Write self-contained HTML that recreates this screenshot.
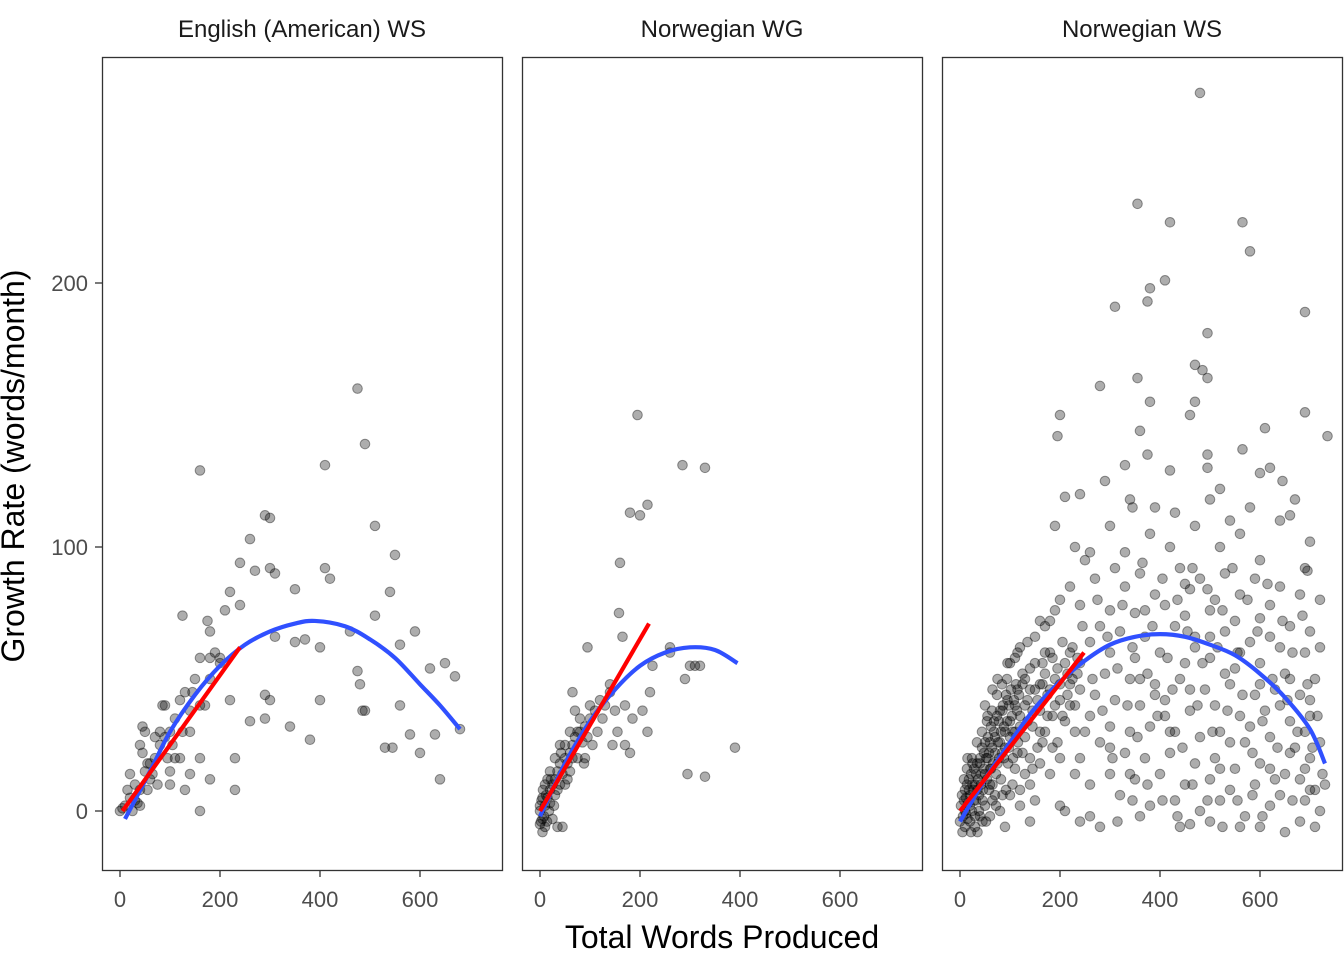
<!DOCTYPE html>
<html><head><meta charset="utf-8"><style>
html,body{margin:0;padding:0;background:#fff}
svg{display:block}
text{font-family:"Liberation Sans",sans-serif}
</style></head><body>
<svg id="chart" width="1344" height="960" viewBox="0 0 1344 960" xmlns="http://www.w3.org/2000/svg"></svg>
<script>
const panelTitles = ["English (American) WS", "Norwegian WG", "Norwegian WS"];
const xTicks = [0, 200, 400, 600];
const yTicks = [0, 100, 200];

const eng = [[475,160],[490,139],[410,131],[160,129],[290,112],[300,111],[510,108],[550,97],[260,103],[240,94],[300,92],[410,92],[420,88],[310,90],[270,91],[540,83],[350,84],[220,83],[240,78],[210,76],[510,74],[125,74],[175,72],[180,68],[590,68],[460,68],[310,66],[350,64],[370,65],[400,62],[560,63],[160,58],[180,58],[200,58],[620,54],[650,56],[670,51],[475,53],[480,48],[290,44],[300,42],[400,42],[220,42],[485,38],[490,38],[560,40],[260,34],[290,35],[340,32],[380,27],[530,24],[545,24],[580,29],[600,22],[630,29],[640,12],[230,20],[230,8],[160,20],[180,12],[160,0],[140,14],[130,8],[680,31],
[10,2],[20,5],[30,10],[40,8],[50,15],[60,12],[70,20],[80,25],[90,40],[85,40],[100,30],[110,35],[120,42],[130,45],[140,38],[150,50],[170,40],[180,50],[190,60],[200,56],[25,0],[35,3],[45,22],[50,30],[55,18],[65,14],[75,10],[95,20],[100,15],[105,25],[110,20],[40,25],[45,32],[15,8],[20,14],[5,1],[0,0],[60,18],[70,28],[80,30],[90,28],[125,30],[145,45],[160,40],[30,4],[40,2],[55,8],[140,30],[120,20],[100,10]];

const nwg = [[195,150],[285,131],[330,130],[215,116],[200,112],[180,113],[160,94],[158,75],[165,66],[300,55],[310,55],[320,55],[290,50],[260,60],[225,55],[220,45],[260,62],[205,38],[215,30],[170,25],[180,22],[390,24],[295,14],[330,13],[95,62],[65,45],[140,48],[170,40],[185,35],
[0,-5],[5,-3],[10,2],[10,-6],[15,5],[20,3],[20,8],[25,10],[30,6],[30,12],[35,15],[40,10],[40,18],[45,14],[50,20],[50,25],[55,18],[60,22],[60,30],[65,25],[70,28],[75,20],[80,30],[80,35],[85,26],[90,32],[95,28],[100,35],[100,40],[110,38],[115,30],[120,42],[125,35],[130,40],[140,45],[150,38],[145,25],[155,30],[35,-6],[45,-6],[25,-3],[5,5],[15,12],[30,20],[40,25],[50,10],[60,15],[70,38],[90,20],[105,25],[20,15],[10,10],[0,2],[5,-8],[0,0],[3,4],[8,-2],[12,6],[18,0],[22,12],[28,2],[35,8],[42,22],[55,12],[65,20],[75,30],[88,18],[2,-4],[6,8],[14,-4]];

const nws = [[480,272],[355,230],[420,223],[565,223],[380,198],[375,193],[410,201],[690,189],[310,191],[495,181],[580,212],[470,169],[485,167],[495,164],[355,164],[380,155],[470,155],[460,150],[280,161],[690,151],[360,144],[735,142],[375,135],[495,135],[565,137],[610,145],[200,150],[195,142],[330,131],[420,129],[495,130],[600,128],[620,130],[645,125],[520,122],[210,119],[290,125],[240,120],[670,118],[660,112],[690,92],[695,91],[340,118],[345,115],[390,115],[430,113],[500,118],[540,110],[580,115],[300,108],[380,105],[470,108],[560,105],[640,110],[190,108],[230,100],[260,98],[330,98],[420,100],[520,100],[600,95],[700,102],
[250,95],[310,92],[360,90],[440,92],[480,88],[530,90],[590,88],[640,85],[680,82],[220,85],[270,88],[330,85],[390,82],[460,84],[510,80],[560,82],[620,78],[720,80],[200,80],[240,78],[300,76],[350,75],[410,78],[450,74],[500,76],[550,72],[600,73],[660,70],[700,68],[180,72],[280,70],[320,68],[370,66],[430,70],[470,66],[530,68],[580,64],[640,62],[690,60],[720,62],[260,64],[300,60],[350,58],[400,60],[450,56],[500,58],[550,54],[600,56],[650,52],[710,50],[240,56],[290,52],[340,50],[390,48],[440,50],[490,46],[540,48],[590,44],[630,46],[680,44],[220,48],[270,44],[310,42],[360,40],[410,42],[460,38],[510,40],[560,36],[610,38],[660,34],[700,36],[260,36],[300,32],[340,30],[380,32],[430,30],[480,28],[520,30],[570,26],[620,28],[670,24],[720,26],[280,26],[330,22],[370,20],[420,22],[470,18],[510,20],[550,16],[600,18],[650,14],[690,16],[240,20],[300,14],[350,12],[400,14],[450,10],[500,12],[540,8],[590,10],[640,6],[700,8],[730,10],[260,10],[320,6],[380,2],[430,4],[480,0],[520,4],[570,-2],[620,2],[680,-4],[710,-6],[280,-6],[360,-2],[440,-6],[500,-4],[600,-6],[650,-8],[460,-5],[560,-6],[390,44],[410,36],[530,52],[470,62],[370,76],[620,66],[580,32],[640,40],[690,30],[700,20],[660,22],[680,12],[540,26],[600,48],[500,66],[450,86],
[0,-4],[5,-8],[10,0],[12,5],[15,-3],[18,8],[20,2],[22,-8],[25,10],[28,4],[30,-2],[32,14],[35,8],[38,0],[40,18],[42,10],[45,4],[48,22],[50,14],[52,-4],[55,20],[58,8],[60,26],[62,16],[65,10],[68,30],[70,22],[72,2],[75,18],[78,34],[80,26],[82,12],[85,38],[88,20],[90,30],[92,8],[95,42],[98,24],[100,34],[8,12],[14,16],[24,20],[34,26],[44,30],[54,34],[64,38],[74,44],[84,48],[94,50],[30,-6],[45,-4],[60,-2],[80,0],[90,-6],[100,6],[50,40],[65,46],
[105,30],[110,40],[115,22],[120,36],[125,48],[130,28],[135,42],[140,54],[145,32],[150,46],[155,24],[160,38],[165,56],[170,30],[175,44],[180,60],[185,36],[190,50],[195,26],[200,42],[205,64],[210,34],[215,52],[220,40],[225,62],[230,30],[235,58],[240,46],[245,70],[110,58],[120,62],[130,14],[140,10],[150,66],[160,18],[170,70],[180,14],[190,76],[200,20],[120,8],[150,4],[170,60],[130,50],[115,46],[100,56],[200,2],[210,0],[240,-4],[160,48],[140,20],[110,16]];

const nwsExtra = [[2,2],[4,6],[6,-2],[8,4],[10,8],[12,-1],[14,10],[16,3],[18,12],[20,6],[22,14],[24,0],[26,8],[28,16],[30,10],[32,4],[34,18],[36,12],[38,6],[40,20],[42,14],[44,24],[46,8],[48,16],[50,26],[52,20],[54,12],[56,28],[58,22],[60,16],[62,32],[64,24],[66,18],[68,34],[70,28],[72,14],[74,36],[76,26],[78,20],[80,38],[82,30],[84,22],[86,40],[88,32],[90,24],[92,44],[94,34],[96,18],[98,40],[100,28],[102,46],[104,36],[106,20],[108,42],[110,30],[112,48],[114,38],[116,26],[118,44],[120,32],[125,52],[130,40],[135,34],[140,46],[145,38],[150,56],[155,42],[160,30],[165,48],[170,52],[175,36],[180,46],[185,58],[190,40],[195,54],[200,48],[205,36],[210,56],[215,44],[220,60],[225,50],[230,40],[235,52],[10,-6],[20,-4],[35,-8],[50,2],[65,4],[85,6],[105,10],[125,22],[145,16],[165,26],[185,24],[60,10],[70,6],[40,-2],[25,18],[15,20],[55,36],[75,50],[95,56],[115,60],[135,64],[160,72],[120,2],[140,-4],[260,-2],[230,14],[250,30],[265,50],[275,80],[285,38],[295,66],[305,20],[315,54],[325,78],[335,40],[345,62],[355,28],[365,94],[375,52],[385,70],[395,36],[405,88],[415,58],[425,46],[435,80],[445,24],[455,68],[465,92],[475,40],[485,56],[495,84],[505,30],[515,62],[525,76],[535,38],[545,92],[555,60],[565,44],[575,80],[585,22],[595,68],[605,34],[615,86],[625,50],[635,24],[645,72],[655,42],[665,60],[675,30],[685,74],[695,48],[705,24],[715,36],[725,14],[710,8],[720,0],[690,4],[665,4],[630,12],[605,-2],[585,6],[555,4],[525,-6],[495,4],[465,10],[435,-2],[405,4],[375,10],[345,4],[315,-4],[300,24],[340,14],[420,30],[520,16],[620,16],[700,42],[660,50],[560,60],[460,46],[360,50]];

const engBlueX = [10,60,100,150,200,250,300,350,390,450,500,550,600,640,680];
const engBlueY = [-3,15,30,44,55,63,68,71,72,70,65,58,48,40,31];
const engRedX = [5,240];
const engRedY = [0,62];
const nwgBlueX = [0,50,100,150,200,250,300,350,395];
const nwgBlueY = [-2,18,34,46,55,60,62,61,56];
const nwgRedX = [0,218];
const nwgRedY = [0,71];
const nwsBlueX = [0,50,100,150,200,250,300,350,400,450,500,550,600,650,700,730];
const nwsBlueY = [-4,12,26,39,49,57,63,66,67,66,63,59,52,43,31,18];
const nwsRedX = [0,248];
const nwsRedY = [0,60];

(function(){
const panels = [
  {left:102, pts:eng, bx:engBlueX, by:engBlueY, rx:engRedX, ry:engRedY, key:'english-ws'},
  {left:522, pts:nwg, bx:nwgBlueX, by:nwgBlueY, rx:nwgRedX, ry:nwgRedY, key:'norwegian-wg'},
  {left:942, pts:nws.concat(nwsExtra), bx:nwsBlueX, by:nwsBlueY, rx:nwsRedX, ry:nwsRedY, key:'norwegian-ws'}
];
const NS = "http://www.w3.org/2000/svg";
const svg = document.getElementById('chart');
const panelTop = 57, panelBottom = 870, pw = 400;
function yScale(v){ return 811 - v * 2.64; }
function mk(tag, attrs, parent){ const e = document.createElementNS(NS, tag); for (const k in attrs) e.setAttribute(k, attrs[k]); parent.appendChild(e); return e; }
function smooth(P){
  let d = 'M' + P[0][0] + ',' + P[0][1];
  for (let i = 0; i < P.length - 1; i++) {
    const p0 = P[i-1] || P[i], p1 = P[i], p2 = P[i+1], p3 = P[i+2] || p2;
    const c1 = [p1[0] + (p2[0]-p0[0])/6, p1[1] + (p2[1]-p0[1])/6];
    const c2 = [p2[0] - (p3[0]-p1[0])/6, p2[1] - (p3[1]-p1[1])/6];
    d += 'C' + c1[0] + ',' + c1[1] + ' ' + c2[0] + ',' + c2[1] + ' ' + p2[0] + ',' + p2[1];
  }
  return d;
}

panels.forEach((p, i) => {
  const xScale = v => p.left + 18 + v * 0.5;
  const g = mk('g', {}, svg);
  
  
  const t = mk('text', {x: p.left + pw/2, y: 37, 'text-anchor': 'middle', 'font-size': 24, fill: '#1a1a1a'}, g);
  t.textContent = panelTitles[i];
  
  
  const pts = mk('g', {}, g);
  
  
  p.pts.forEach(d => {
    const c = mk('circle', {cx: xScale(d[0]), cy: yScale(d[1]), r: 4.8, fill: 'rgba(0,0,0,0.32)', stroke: 'rgba(0,0,0,0.4)', 'stroke-width': 1}, pts);
    
    
  });
  const blue = mk('path', {d: smooth(p.bx.map((x, j) => [xScale(x), yScale(p.by[j])])), fill: 'none', stroke: '#3050ff', 'stroke-width': 4.2}, g);
  
  
  const red = mk('path', {d: p.rx.map((x, j) => (j ? 'L' : 'M') + xScale(x) + ',' + yScale(p.ry[j])).join(''), fill: 'none', stroke: '#ff0000', 'stroke-width': 4.2}, g);
  
  
  const fr = mk('rect', {x: p.left + 0.5, y: panelTop + 0.5, width: pw, height: panelBottom - panelTop, fill: 'none', stroke: '#333', 'stroke-width': 1.3}, g);
  
  
  xTicks.forEach(v => {
    const x = xScale(v);
    const l = mk('line', {x1: x, x2: x, y1: panelBottom + 1, y2: panelBottom + 7, stroke: '#333', 'stroke-width': 1.3}, g);
    
    
    const tt = mk('text', {x: x, y: 907, 'text-anchor': 'middle', 'font-size': 22, fill: '#4d4d4d'}, g);
    tt.textContent = v;
    
    
  });
  if (i === 0) {
    yTicks.forEach(v => {
      const y = yScale(v);
      const l = mk('line', {x1: 95, x2: 102, y1: y, y2: y, stroke: '#333', 'stroke-width': 1.3}, g);
      
      
      const tt = mk('text', {x: 88, y: y + 8, 'text-anchor': 'end', 'font-size': 22, fill: '#4d4d4d'}, g);
      tt.textContent = v;
      
      
    });
  }
});
const xt = mk('text', {x: 722, y: 948, 'text-anchor': 'middle', 'font-size': 32, fill: '#000'}, svg);
xt.textContent = 'Total Words Produced';


const yt = mk('text', {x: 0, y: 0, 'text-anchor': 'middle', 'font-size': 32, fill: '#000', transform: 'translate(24,466) rotate(-90)'}, svg);
yt.textContent = 'Growth Rate (words/month)';


})();
</script>
</body></html>
